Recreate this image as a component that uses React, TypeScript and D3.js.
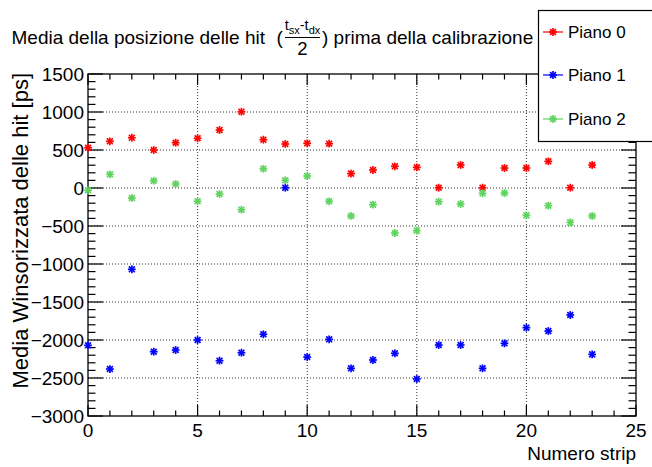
import React from "react";
import * as d3 from "d3";

const strips = [0, 1, 2, 3, 4, 5, 6, 7, 8, 9, 10, 11, 12, 13, 14, 15, 16, 17, 18, 19, 20, 21, 22, 23];
const piano0 = [530, 614, 662, 500, 596, 654, 763, 1004, 636, 579, 588, 583, 189, 237, 285, 272, 4, 303, 4, 263, 263, 351, 4, 303];
const piano1 = [-2070, -2382, -1070, -2154, -2132, -2000, -2272, -2167, -1925, 4, -2224, -1991, -2373, -2263, -2175, -2513, -2066, -2066, -2373, -2044, -1838, -1882, -1671, -2189];
const piano2 = [-30, 180, -132, 96, 53, -175, -79, -285, 254, 101, 158, -175, -368, -219, -592, -561, -180, -211, -70, -66, -360, -232, -452, -368];
const seriesNames = ["Piano 0", "Piano 1", "Piano 2"];
const seriesColors = ["#ff0000", "#0000ff", "#5fd35f"];
const yTicks = [-3000, -2500, -2000, -1500, -1000, -500, 0, 500, 1000, 1500];
const xTicks = [0, 5, 10, 15, 20, 25];

const W = 652, H = 467;
const L = 88, R = 636, T = 74, B = 416;
const FONT = "'Liberation Sans', Arial, Helvetica, sans-serif";

function Star({ x, y, color, s = 3.9 }: { x: number; y: number; color: string; s?: number }) {
  const d = s * 0.75;
  return (
    <g stroke={color} strokeWidth={1.7}>
      <line x1={x - s} y1={y} x2={x + s} y2={y} />
      <line x1={x} y1={y - s} x2={x} y2={y + s} />
      <line x1={x - d} y1={y - d} x2={x + d} y2={y + d} />
      <line x1={x - d} y1={y + d} x2={x + d} y2={y - d} />
    </g>
  );
}

export default function App() {
  const x = d3.scaleLinear().domain([0, 25]).range([L, R]);
  const y = d3.scaleLinear().domain([-3000, 1500]).range([B, T]);
  const series = [piano0, piano1, piano2];
  const xMinor = d3.range(0, 26, 1);
  const yMinor = d3.range(-3000, 1501, 100);
  const legendY = [32, 75, 119];

  return (
    <svg width={W} height={H} style={{ position: "absolute", left: 0, top: 0, background: "#fff" }} fontFamily={FONT}>
      <rect x={0} y={0} width={W} height={H} fill="#fff" />
      {/* grid */}
      <g stroke="#333" strokeWidth={1} strokeDasharray="1 2">
        {xTicks.slice(1, -1).map((t) => (
          <line key={"gx" + t} x1={x(t)} x2={x(t)} y1={T} y2={B} />
        ))}
        {yTicks.slice(1, -1).map((t) => (
          <line key={"gy" + t} x1={L} x2={R} y1={y(t)} y2={y(t)} />
        ))}
      </g>
      {/* ticks */}
      <g stroke="#000" strokeWidth={1.2}>
        {xMinor.map((t) => {
          const len = t % 5 === 0 ? 11 : 5.5;
          return (
            <g key={"xt" + t}>
              <line x1={x(t)} x2={x(t)} y1={B} y2={B - len} />
              <line x1={x(t)} x2={x(t)} y1={T} y2={T + len} />
            </g>
          );
        })}
        {yMinor.map((t) => {
          const len = t % 500 === 0 ? 15 : 7.5;
          return (
            <g key={"yt" + t}>
              <line x1={L} x2={L + len} y1={y(t)} y2={y(t)} />
              <line x1={R} x2={R - len} y1={y(t)} y2={y(t)} />
            </g>
          );
        })}
      </g>
      <rect x={L} y={T} width={R - L} height={B - T} fill="none" stroke="#000" strokeWidth={1.3} />
      {/* tick labels */}
      <g fontSize={19} fill="#000">
        {yTicks.map((t) => (
          <text key={"yl" + t} x={L - 4} y={y(t) + 7} textAnchor="end">
            {t < 0 ? "\u2212" + Math.abs(t) : String(t)}
          </text>
        ))}
        {xTicks.map((t) => (
          <text key={"xl" + t} x={x(t)} y={437} textAnchor="middle">
            {t}
          </text>
        ))}
      </g>
      <text x={R} y={460} textAnchor="end" fontSize={19}>Numero strip</text>
      <text transform={`translate(28,73) rotate(-90)`} textAnchor="end" fontSize={22}>
        Media Winsorizzata delle hit [ps]
      </text>
      {/* points */}
      {series.map((vals, si) =>
        vals.map((v, i) => <Star key={si + "-" + i} x={x(strips[i])} y={y(v)} color={seriesColors[si]} />)
      )}
      {/* title */}
      <g fontSize={19} fill="#000">
        <text x={265} y={44} textAnchor="end">Media della posizione delle hit</text>
        <text x={276.5} y={44}>(</text>
        <text x={302.5} y={30} textAnchor="middle" fontSize={14.5}>
          t<tspan fontSize={11} dy={4}>sx</tspan>
          <tspan dy={-4}>-t</tspan>
          <tspan fontSize={11} dy={4}>dx</tspan>
        </text>
        <line x1={285} x2={320} y1={37.5} y2={37.5} stroke="#000" strokeWidth={1} />
        <text x={302.5} y={55} textAnchor="middle" fontSize={18.5}>2</text>
        <text x={322} y={44}>) prima della calibrazione</text>
      </g>
      {/* legend */}
      <rect x={538.5} y={10.5} width={130} height={131} fill="#fff" stroke="#000" strokeWidth={1.2} />
      {seriesNames.map((n, i) => (
        <g key={n}>
          <line x1={543} x2={563} y1={legendY[i]} y2={legendY[i]} stroke={seriesColors[i]} strokeWidth={1.2} />
          <Star x={553} y={legendY[i]} color={seriesColors[i]} />
          <text x={568} y={legendY[i] + 6} fontSize={17}>{n}</text>
        </g>
      ))}
    </svg>
  );
}
